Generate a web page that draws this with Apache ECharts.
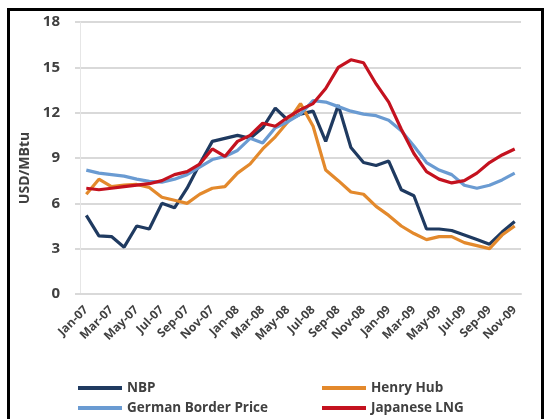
<!DOCTYPE html>
<html>
<head>
<meta charset="utf-8">
<script src="https://cdn.jsdelivr.net/npm/echarts@6/dist/echarts.min.js"></script>
<style>
  html, body { margin: 0; padding: 0; background: #fff; }
  #chart { width: 546px; height: 419px; }
</style>
</head>
<body>
<div id="chart"></div>
<script>
const months = ['Jan-07', 'Feb-07', 'Mar-07', 'Apr-07', 'May-07', 'Jun-07', 'Jul-07', 'Aug-07', 'Sep-07', 'Oct-07', 'Nov-07', 'Dec-07',
  'Jan-08', 'Feb-08', 'Mar-08', 'Apr-08', 'May-08', 'Jun-08', 'Jul-08', 'Aug-08', 'Sep-08', 'Oct-08', 'Nov-08', 'Dec-08',
  'Jan-09', 'Feb-09', 'Mar-09', 'Apr-09', 'May-09', 'Jun-09', 'Jul-09', 'Aug-09', 'Sep-09', 'Oct-09', 'Nov-09'];

const nbp = [5.2, 3.85, 3.8, 3.1, 4.5, 4.3, 6.0, 5.7, 7.0, 8.6, 10.1, 10.3, 10.5, 10.3, 11.0, 12.3, 11.5, 11.9,
  12.1, 10.1, 12.5, 9.7, 8.7, 8.5, 8.8, 6.9, 6.5, 4.3, 4.3, 4.2, 3.9, 3.6, 3.3, 4.1, 4.8];
const henryHub = [6.6, 7.6, 7.1, 7.2, 7.25, 7.05, 6.4, 6.2, 6.0, 6.6, 7.0, 7.1, 8.0, 8.6, 9.6, 10.4, 11.4, 12.6,
  11.1, 8.2, 7.5, 6.75, 6.6, 5.8, 5.2, 4.5, 4.0, 3.6, 3.8, 3.8, 3.4, 3.2, 3.0, 3.9, 4.5];
const germanBorder = [8.2, 8.0, 7.9, 7.8, 7.6, 7.45, 7.4, 7.6, 7.9, 8.4, 8.9, 9.1, 9.5, 10.3, 10.0, 11.0, 11.4, 11.9,
  12.8, 12.7, 12.4, 12.1, 11.9, 11.8, 11.5, 10.8, 9.8, 8.7, 8.2, 7.9, 7.2, 7.0, 7.2, 7.55, 8.0];
const japaneseLng = [7.0, 6.9, 7.0, 7.1, 7.2, 7.3, 7.5, 7.9, 8.1, 8.6, 9.6, 9.1, 10.1, 10.5, 11.3, 11.1, 11.7, 12.2,
  12.6, 13.6, 15.0, 15.5, 15.3, 13.9, 12.7, 10.9, 9.3, 8.1, 7.6, 7.35, 7.5, 8.0, 8.7, 9.2, 9.6];

const font = 'Open Sans';
const textColor = '#404040';
const gridColor = '#d9d9d9';

const chart = echarts.init(document.getElementById('chart'));

function line(name, data, color) {
  return {
    name: name,
    type: 'line',
    data: data,
    showSymbol: false,
    symbol: 'none',
    smooth: false,
    lineStyle: { color: color, width: 3.2 },
    itemStyle: { color: color },
  };
}

// one legend per entry so the 2x2 layout stays put
function legendItem(name, left, top) {
  return {
    data: [name],
    left: left,
    top: top,
    padding: 0,
    icon: 'rect',
    itemWidth: 44,
    itemHeight: 4,
    textStyle: { fontFamily: font, fontSize: 13.5, fontWeight: 'bold', color: textColor },
  };
}

const options = {
  animation: false,
  backgroundColor: '#fff',
  grid: {
    left: 80,
    right: 25,
    top: 22,
    bottom: 125,
  },
  legend: [
    legendItem('NBP', 78, 381),
    legendItem('Henry Hub', 322, 381),
    legendItem('German Border Price', 78, 401),
    legendItem('Japanese LNG', 322, 401),
  ],
  xAxis: {
    type: 'category',
    data: months,
    boundaryGap: true,
    axisLine: { lineStyle: { color: gridColor, width: 2 } },
    axisTick: { show: false },
    axisLabel: {
      interval: 1,
      rotate: 45,
      margin: 14,
      fontFamily: font,
      fontSize: 12,
      fontWeight: 'bold',
      color: textColor,
    },
  },
  yAxis: {
    type: 'value',
    min: 0,
    max: 18,
    interval: 3,
    name: 'USD/MBtu',
    nameLocation: 'middle',
    nameGap: 37,
    nameTextStyle: { fontFamily: font, fontSize: 14, fontWeight: 'bold', color: textColor, padding: [0, 20, 0, 0] },
    axisLine: { show: true, lineStyle: { color: '#e6e6e6', width: 1 } },
    axisTick: { show: true, length: 5, lineStyle: { color: gridColor, width: 2 } },
    splitLine: { lineStyle: { color: gridColor, width: 2 } },
    axisLabel: {
      margin: 20,
      fontFamily: font,
      fontSize: 15,
      fontWeight: 'bold',
      color: textColor,
    },
  },
  graphic: [
    {
      type: 'rect',
      shape: { x: 8.5, y: 9.5, width: 534, height: 440 },
      style: { fill: null, stroke: '#000', lineWidth: 3 },
      silent: true,
      z: 100,
    },
  ],
  series: [
    line('NBP', nbp, '#1f3a60'),
    line('Henry Hub', henryHub, '#e3892c'),
    line('German Border Price', germanBorder, '#6a9bd2'),
    line('Japanese LNG', japaneseLng, '#c4121f'),
  ],
};

chart.setOption(options);
</script>
</body>
</html>
